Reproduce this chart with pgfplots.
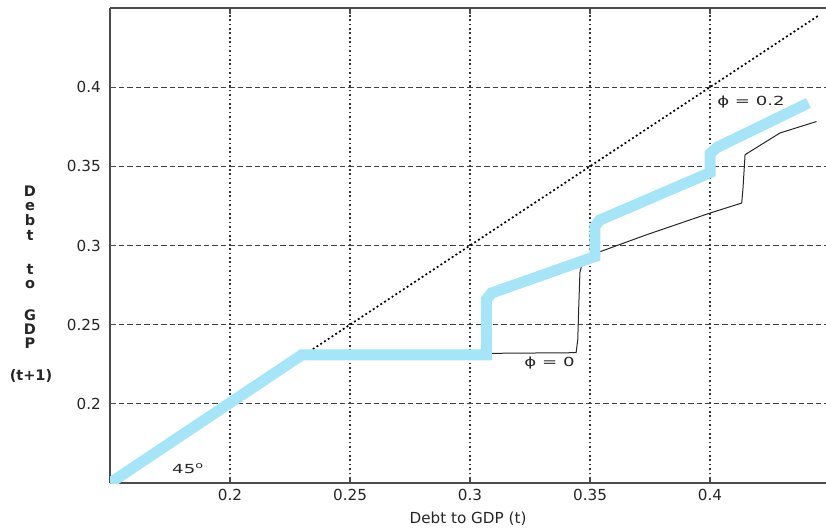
\documentclass[border=0pt]{standalone}
\usepackage{fontspec}
\setmainfont{DejaVu Sans}
\usepackage{pgfplots}
\pgfplotsset{compat=1.18}
\definecolor{phiblue}{RGB}{166,228,248}
\begin{document}
\begin{tikzpicture}
\begin{axis}[name=ax, at={(0pt,0pt)}, anchor=south west,
 scale only axis, width=716pt, height=475pt,
 xmin=0.15, xmax=0.44833, ymin=0.15, ymax=0.45,
 axis x line*=box, axis y line*=left,
 axis line style={-, draw=black!70, line width=1.3pt},
 x axis line style={-}, y axis line style={-},
 xtick={0.2,0.25,0.3,0.35,0.4}, xticklabels={0.2,0.25,0.3,0.35,0.4},
 ytick={0.2,0.25,0.3,0.35,0.4}, yticklabels={0.2,0.25,0.3,0.35,0.4},
 tick align=inside, major tick length=6pt,
 tick style={draw=black!70, line width=1.2pt},
 xmajorgrids=true, ymajorgrids=true,
 x grid style={black!80, line width=1.5pt, dash pattern=on 1.7pt off 2.7pt},
 y grid style={black!75, line width=1.1pt, dash pattern=on 5.5pt off 3pt},
 ticklabel style={font=\fontsize{15.2}{17}\selectfont, text=black!85},
 xticklabel style={anchor=base, yshift=-17.5pt, inner sep=0pt},
 yticklabel style={anchor=east, xshift=-9pt, inner sep=0pt},
]
\addplot[black, line width=1.7pt, dash pattern=on 1.9pt off 2.6pt] coordinates {(0.15,0.15) (0.445,0.445)};
\addplot[black!85, line width=1pt] coordinates {
 (0.15,0.15) (0.230,0.231) (0.3442,0.2323) (0.3449,0.2405) (0.3453,0.261)
 (0.3458,0.283) (0.3465,0.2873) (0.354,0.296) (0.3736,0.3068) (0.400,0.3205)
 (0.4132,0.3268) (0.4137,0.3352) (0.4146,0.3573) (0.4158,0.3585)
 (0.4292,0.3711) (0.4444,0.3783)};
\addplot[phiblue, line width=11pt] coordinates {
 (0.15,0.15) (0.230,0.231) (0.3068,0.231) (0.3068,0.266) (0.309,0.270)
 (0.352,0.293) (0.352,0.312) (0.354,0.316) (0.400,0.346) (0.400,0.358)
 (0.403,0.362) (0.441,0.390)};
\end{axis}
\node[font=\fontsize{12.5}{14}\selectfont, text=black!85] at (641pt,381pt) {\scalebox{1.45}[1]{ϕ = 0.2}};
\node[font=\fontsize{12.5}{14}\selectfont, text=black!85] at (439.5pt,120pt) {\scalebox{1.45}[1]{ϕ = 0}};
\node[font=\fontsize{12.5}{14}\selectfont, text=black!85, anchor=base] at (78pt,10pt) {\scalebox{1.45}[1]{45\textsuperscript{o}}};
\node[font=\fontsize{15.2}{17}\selectfont, text=black!85, anchor=base] at (358pt,-40.5pt) {Debt to GDP (t)};
\begin{scope}[every node/.style={font=\bfseries\fontsize{14.5}{16}\selectfont, text=black!85, anchor=base}]
\node at (-80pt,287pt) {D};
\node at (-80pt,273pt) {e};
\node at (-80pt,258pt) {b};
\node at (-80pt,243pt) {t};
\node at (-80pt,209pt) {t};
\node at (-80pt,195pt) {o};
\node at (-80pt,163pt) {G};
\node at (-80pt,149pt) {D};
\node at (-80pt,135pt) {P};
\node at (-79pt,103pt) {(t+1)};
\end{scope}
\pgfresetboundingbox
\path[use as bounding box] (-110pt,-48pt) rectangle (716pt,483pt);
\end{tikzpicture}
\end{document}
